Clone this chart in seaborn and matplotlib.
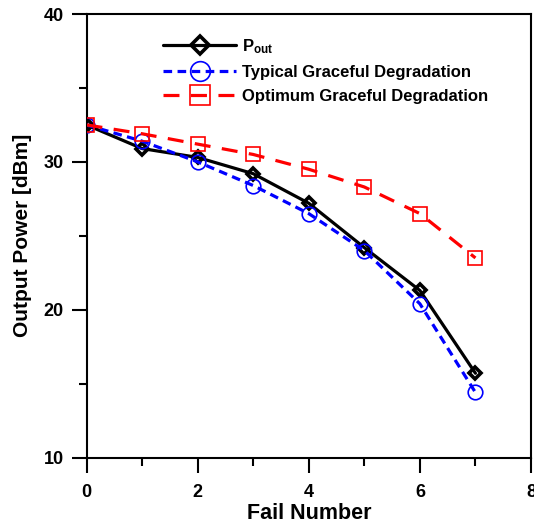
import matplotlib
matplotlib.use("Agg")
import matplotlib.pyplot as plt
from matplotlib.ticker import MultipleLocator
import seaborn as sns

# Output power versus number of failed elements
fail_number = [0, 1, 2, 3, 4, 5, 6, 7]
p_out = [32.5, 30.9, 30.3, 29.2, 27.2, 24.2, 21.3, 15.7]
typical_gd = [32.5, 31.4, 30.0, 28.4, 26.5, 24.0, 20.4, 14.4]
optimum_gd = [32.5, 31.9, 31.2, 30.5, 29.5, 28.3, 26.5, 23.5]

labels = [r"P$_{\rm out}$", "Typical Graceful Degradation", "Optimum Graceful Degradation"]

sns.set_style("ticks")
plt.rcParams["font.family"] = ["Liberation Sans", "DejaVu Sans"]
plt.rcParams["font.weight"] = "bold"
plt.rcParams["axes.labelweight"] = "bold"
plt.rcParams["text.color"] = "black"
plt.rcParams["axes.labelcolor"] = "black"
plt.rcParams["xtick.color"] = "black"
plt.rcParams["ytick.color"] = "black"
plt.rcParams["mathtext.fontset"] = "custom"
plt.rcParams["mathtext.rm"] = "Liberation Sans:bold"
plt.rcParams["mathtext.it"] = "Liberation Sans:bold"
plt.rcParams["mathtext.bf"] = "Liberation Sans:bold"

fig = plt.figure(figsize=(5.34, 5.23), dpi=100)
ax = fig.add_axes([0.162, 0.1252, 0.8324, 0.848])

series = [
    (p_out, "black", "D", 6.5, 2.6, "-"),
    (typical_gd, "#0000ff", "o", 10.5, 1.2, (0, (2.7, 1.7))),
    (optimum_gd, "#ff0000", "s", 10.5, 1.2, (0, (5.0, 3.6))),
]

for (vals, color, marker, ms, mew, ls), lab in zip(series, labels):
    sns.lineplot(
        x=fail_number, y=vals, ax=ax, color=color, linewidth=2.3,
        linestyle=ls, marker=marker, markersize=ms,
        markerfacecolor="none", markeredgecolor=color, markeredgewidth=mew,
        label=lab, errorbar=None, zorder=3,
    )

ax.set_xlim(0, 8)
ax.set_ylim(10, 40)
ax.xaxis.set_major_locator(MultipleLocator(2))
ax.xaxis.set_minor_locator(MultipleLocator(1))
ax.yaxis.set_major_locator(MultipleLocator(10))
ax.yaxis.set_minor_locator(MultipleLocator(5))

ax.tick_params(axis="both", which="major", direction="out", length=11, width=1.5,
               labelsize=13, colors="black")
ax.tick_params(axis="both", which="minor", direction="out", length=6, width=1.5,
               colors="black")
ax.tick_params(axis="x", which="major", pad=8)
ax.tick_params(axis="y", which="major", pad=5.5)
for lbl in ax.get_xticklabels() + ax.get_yticklabels():
    lbl.set_fontweight("bold")

for sp in ax.spines.values():
    sp.set_visible(True)
    sp.set_linewidth(1.5)
    sp.set_color("black")

ax.set_xlabel("Fail Number", fontsize=15.5, fontweight="bold", labelpad=1.5)
ax.set_ylabel("Output Power [dBm]", fontsize=15, fontweight="bold", labelpad=8)

leg = ax.legend(
    loc="upper left", bbox_to_anchor=((163 - 86.5) / 444.5, (457.5 - 37) / 443.5),
    frameon=False, fontsize=12, handlelength=4.4, handletextpad=0.35,
    labelspacing=0.55, borderpad=0, borderaxespad=0, markerscale=1.35,
)
for t in leg.get_texts():
    t.set_fontweight("bold")
    t.set_color("black")

fig.savefig("out.png", dpi=100)
